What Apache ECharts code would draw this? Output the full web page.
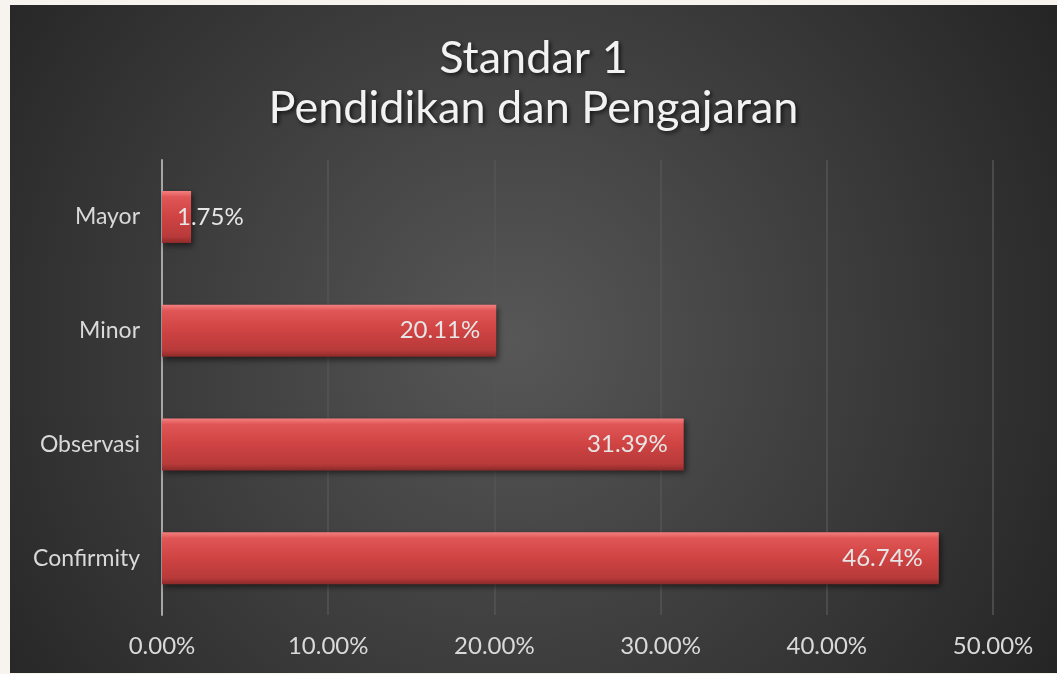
<!DOCTYPE html>
<html>
<head>
<meta charset="utf-8">
<script src="https://cdn.jsdelivr.net/npm/echarts@6/dist/echarts.min.js"></script>
<style>
  html, body { margin: 0; padding: 0; background: #f7f4ef; }
  #chart { position: absolute; left: 10px; top: 5px; width: 1047px; height: 668px; }
</style>
</head>
<body>
<div id="chart"></div>
<script>
// data
var categories = ['Confirmity', 'Observasi', 'Minor', 'Mayor'];
var values = [46.74, 31.39, 20.11, 1.75];
var titleLines = ['Standar 1', 'Pendidikan dan Pengajaran'];

var chart = echarts.init(document.getElementById('chart'));

var font = 'Lato, "Open Sans", sans-serif';

var barData = values.map(function (v, i) {
  var item = { value: v };
  // tiny bar: label spills to the right like in the original
  if (v < 5) {
    item.label = { position: 'insideLeft', distance: 15 };
  }
  return item;
});

var option = {
  backgroundColor: {
    type: 'radial', x: 0.48, y: 0.5, r: 0.95,
    colorStops: [
      { offset: 0, color: '#575757' },
      { offset: 1, color: '#252525' }
    ]
  },
  title: {
    text: titleLines.join('\n'),
    left: 'center',
    top: 23,
    textStyle: {
      fontFamily: font,
      fontSize: 45,
      fontWeight: 'normal',
      color: '#f2f2f2',
      lineHeight: 50,
      textShadowColor: 'rgba(0,0,0,0.7)',
      textShadowBlur: 4,
      textShadowOffsetX: 2,
      textShadowOffsetY: 2
    }
  },
  grid: {
    left: 152,
    right: 64,
    top: 155,
    bottom: 58,
    containLabel: false
  },
  xAxis: {
    type: 'value',
    min: 0,
    max: 50,
    interval: 10,
    axisLine: { show: false },
    axisTick: { show: false },
    splitLine: { lineStyle: { color: '#555555', width: 1.5 } },
    axisLabel: {
      color: '#d9d9d9',
      fontFamily: font,
      fontSize: 24,
      margin: 19,
      formatter: function (v) { return v.toFixed(2) + '%'; }
    }
  },
  yAxis: {
    type: 'category',
    data: categories,
    axisLine: { show: true, lineStyle: { color: '#a6a6a6', width: 2 } },
    axisTick: { show: false },
    axisLabel: {
      color: '#d9d9d9',
      fontFamily: font,
      fontSize: 23,
      margin: 22
    }
  },
  series: [{
    type: 'bar',
    data: barData,
    barWidth: 52,
    itemStyle: {
      color: {
        type: 'linear', x: 0, y: 0, x2: 0, y2: 1,
        colorStops: [
          { offset: 0, color: '#f58080' },
          { offset: 0.12, color: '#e05555' },
          { offset: 0.5, color: '#cf4343' },
          { offset: 0.88, color: '#b83a3a' },
          { offset: 1, color: '#8e2a2a' }
        ]
      },
      shadowColor: 'rgba(0,0,0,0.55)',
      shadowBlur: 6,
      shadowOffsetX: 2,
      shadowOffsetY: 3
    },
    label: {
      show: true,
      position: 'insideRight',
      distance: 16,
      color: '#e6e6e6',
      fontFamily: font,
      fontSize: 24,
      formatter: function (p) { return p.value.toFixed(2) + '%'; }
    }
  }]
};

chart.setOption(option);
</script>
</body>
</html>
